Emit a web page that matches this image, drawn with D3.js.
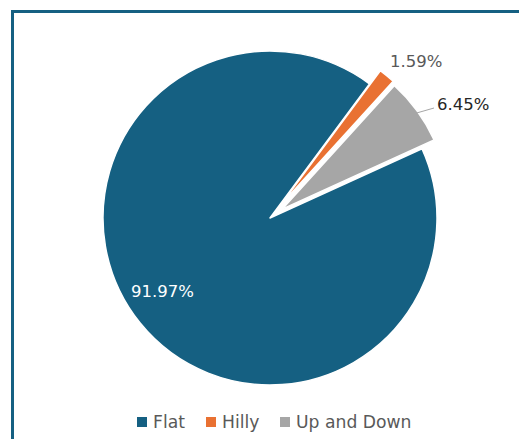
<!DOCTYPE html>
<html>
<head>
<meta charset="utf-8">
<script src="https://cdn.jsdelivr.net/npm/d3@7"></script>
<style>
  html, body { margin: 0; padding: 0; background: #fff; }
  svg { display: block; }
</style>
</head>
<body>
<svg id="chart" width="519" height="439"></svg>
<script>
// Terrain share of the route
const categories = ["Flat", "Hilly", "Up and Down"];
const shares = [91.97, 1.59, 6.45];
const labels = ["91.97%", "1.59%", "6.45%"];
const colors = ["#156082", "#E97132", "#A6A6A6"];
const exploded = [0, 17, 15];

const svg = d3.select("#chart");
const W = 519, H = 439;

// chart frame
svg.append("rect")
  .attr("x", 12.5).attr("y", 11.5)
  .attr("width", W + 20).attr("height", H + 20)
  .attr("fill", "none")
  .attr("stroke", "#156082")
  .attr("stroke-width", 3);

const cx = 270, cy = 218, R = 167;
const startDeg = 65.5;

const pie = d3.pie().sort(null).value(d => d)
  .startAngle(startDeg * Math.PI / 180)
  .endAngle(startDeg * Math.PI / 180 + 2 * Math.PI);
const arcs = pie(shares);
const arc = d3.arc().innerRadius(0).outerRadius(R);

const g = svg.append("g").attr("transform", `translate(${cx},${cy})`);

function offset(d, i) {
  const a = (d.startAngle + d.endAngle) / 2;
  return [Math.sin(a) * exploded[i], -Math.cos(a) * exploded[i]];
}

g.selectAll("path.slice").data(arcs).join("path")
  .attr("class", "slice")
  .attr("d", arc)
  .attr("transform", (d, i) => { const o = offset(d, i); return `translate(${o[0]},${o[1]})`; })
  .attr("fill", (d, i) => colors[i])
  .attr("stroke", "#fff")
  .attr("stroke-width", 1.5)
  .attr("stroke-linejoin", "round");

const font = "'DejaVu Sans', Verdana, sans-serif";

// Flat label inside the slice
g.append("text")
  .attr("x", 131 - cx).attr("y", 297 - cy)
  .attr("font-family", font).attr("font-size", 16.5)
  .attr("fill", "#fff")
  .text(labels[0]);

// Hilly label outside
g.append("text")
  .attr("x", 390 - cx).attr("y", 67 - cy)
  .attr("font-family", font).attr("font-size", 16.5)
  .attr("fill", "#595959")
  .text(labels[1]);

// Up and Down label with leader line
const ud = arcs[2];
const udOff = offset(ud, 2);
const aMid = (ud.startAngle + ud.endAngle) / 2;
const edge = [Math.sin(aMid) * (R - 6) + udOff[0], -Math.cos(aMid) * (R - 6) + udOff[1]];
g.append("path")
  .attr("d", d3.line()([[edge[0], edge[1]], [434 - cx, 108 - cy]]))
  .attr("stroke", "#A6A6A6").attr("stroke-width", 1).attr("fill", "none");
g.append("text")
  .attr("x", 437 - cx).attr("y", 110 - cy)
  .attr("font-family", font).attr("font-size", 16.5)
  .attr("fill", "#262626")
  .text(labels[2]);

// legend
const legendX = [137, 206, 280];
const legend = svg.append("g");
categories.forEach((c, i) => {
  legend.append("rect")
    .attr("x", legendX[i]).attr("y", 417)
    .attr("width", 10).attr("height", 10)
    .attr("fill", colors[i]);
  legend.append("text")
    .attr("x", legendX[i] + 16).attr("y", 428)
    .attr("font-family", font).attr("font-size", 17.2)
    .attr("fill", "#595959")
    .text(c);
});
</script>
</body>
</html>
